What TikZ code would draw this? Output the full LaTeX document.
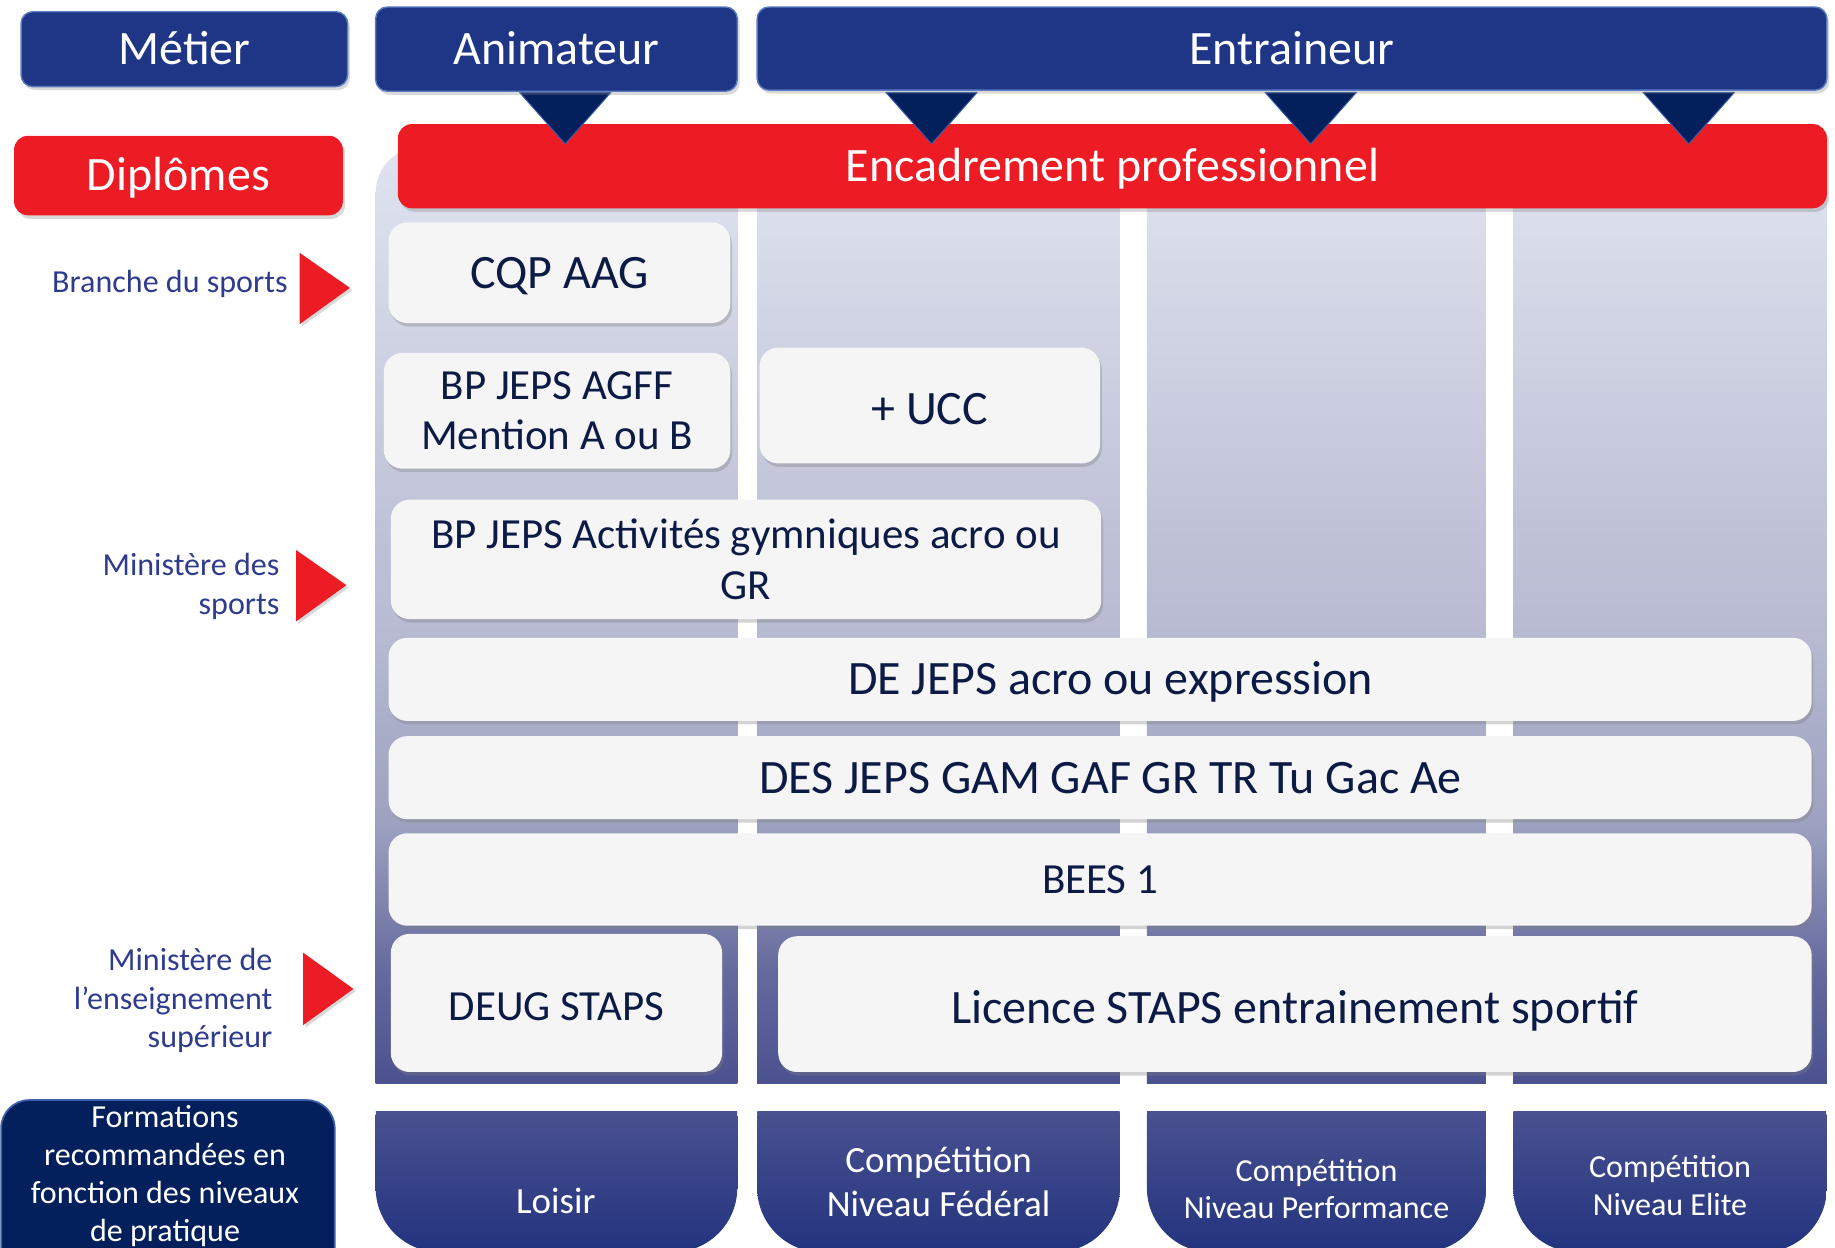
\documentclass[tikz,border=0pt]{standalone}
\usepackage{fontspec}
\setmainfont{Carlito}
\usetikzlibrary{shadows}
\definecolor{topblue}{HTML}{1F3585}
\definecolor{topborder}{HTML}{5A7BC2}
\definecolor{redc}{HTML}{ED1C24}
\definecolor{navy}{HTML}{03205C}
\definecolor{navyborder}{HTML}{3A5FA8}
\definecolor{boxgray}{HTML}{F5F5F5}
\definecolor{textdark}{HTML}{0C1A46}
\definecolor{lblblue}{HTML}{2F3C8E}
\definecolor{colA}{HTML}{4A518F}
\definecolor{colB}{HTML}{656A9E}
\definecolor{colC}{HTML}{9DA1C0}
\definecolor{colD}{HTML}{B7BAD1}
\definecolor{colE}{HTML}{E0E3EF}
\definecolor{botTop}{HTML}{4A5190}
\definecolor{botBot}{HTML}{22337E}
\pgfdeclareverticalshading{colshade}{100bp}{color(0bp)=(colA); color(25bp)=(colA); color(31bp)=(colB); color(38.75bp)=(colC); color(49bp)=(colD); color(75bp)=(colE); color(100bp)=(colE)}
\newcommand\fsz[2]{\fontsize{#1}{#2}\selectfont}
\begin{document}
\begin{tikzpicture}[x=1pt,y=-1pt,
  capc/.style={text height=#1, text depth=0pt},
  big/.style={font=\fsz{41}{49}, capc=26.4pt},
  mid/.style={font=\fsz{36.7}{44}, capc=23.6pt},
  topbox/.style={rounded corners=10pt, fill=topblue, draw=topborder, line width=1.2pt, text=white, inner sep=0pt, big, drop shadow={shadow xshift=2pt, shadow yshift=-3pt, opacity=0.3}},
  redbox/.style={rounded corners=12pt, fill=redc, text=white, inner sep=0pt, big, drop shadow={shadow xshift=2pt, shadow yshift=-3pt, opacity=0.3}},
  lbox/.style={rounded corners=16pt, fill=boxgray, text=textdark, inner sep=0pt, align=center, drop shadow={shadow xshift=1.5pt, shadow yshift=-3pt, opacity=0.35}},
  lbl/.style={text=lblblue, inner sep=0pt, anchor=east, align=right, font=\fsz{27.4}{33}},
  wlbl/.style={text=white, inner sep=0pt, align=center},
  navytri/.style={fill=navy, draw=navyborder, line width=0.8pt, line join=round},
  redtri/.style={fill=redc, drop shadow={shadow xshift=2pt, shadow yshift=-2pt, opacity=0.3}},
]
\useasboundingbox (0,0) rectangle (1568,1066);
% background columns
\foreach \a/\b in {321/630,647/957,980/1270,1293/1561}{
  \begin{scope}
    \clip[rounded corners=40pt] (\a,125) rectangle (\b,1000);
    \clip (\a,100) rectangle (\b,926);
    \path[shading=colshade] (\a,125) rectangle (\b,926);
  \end{scope}
}
% level boxes at bottom
\foreach \a/\b in {321/630,647/957,980/1270,1293/1561}{
  \begin{scope}
    \clip[rounded corners=55pt] (\a,900) rectangle (\b,1070);
    \clip (\a,950) rectangle (\b,1100);
    \path[top color=botTop, bottom color=botBot] (\a,950) rectangle (\b,1070);
  \end{scope}
}
\draw[fill=navy, draw=navyborder, line width=1.5pt, rounded corners=24pt] (1,940) rectangle (286,1110);
\node[wlbl, font=\fsz{27.4}{32.5}] (formations) at (141,1005) {Formations\\recommandées en\\fonction des niveaux\\de pratique};
\node[wlbl, font=\fsz{31.6}{38}, capc=20.4pt] (loisir) at (475,1027) {Loisir};
\node[wlbl, font=\fsz{31.6}{38}] (federal) at (802,1010) {Compétition\\Niveau Fédéral};
\node[wlbl, font=\fsz{27.4}{32}] (perf) at (1125,1016) {Compétition\\Niveau Performance};
\node[wlbl, font=\fsz{27.4}{33}] (elite) at (1427,1013) {Compétition\\Niveau Elite};
% red headers
\node[redbox, minimum width=1221pt, minimum height=72pt] (enc) at (950.5,142) {Encadrement professionnel};
\node[redbox, minimum width=281pt, minimum height=68pt] (dipl) at (152.5,150) {Diplômes};
% triangles
\foreach \c in {483,796,1120,1443}{
  \path[navytri] (\c-39,79) -- (\c+39,79) -- (\c,123) -- cycle;
}
% top boxes
\node[topbox, minimum width=279pt, minimum height=64pt] (metier) at (157.5,42) {Métier};
\node[topbox, minimum width=309pt, minimum height=72pt] (anim) at (475.5,42) {Animateur};
\node[topbox, minimum width=914pt, minimum height=71pt] (entr) at (1104,41.5) {Entraineur};
% diploma boxes
\node[lbox, minimum width=292pt, minimum height=86pt, big] (cqp) at (478,233) {CQP AAG};
\node[lbox, minimum width=296pt, minimum height=99pt, font=\fsz{36.7}{43}] (agff) at (476,351) {BP JEPS AGFF\\Mention A ou B};
\node[lbox, minimum width=291pt, minimum height=99pt, big, capc=32.4pt] (ucc) at (794.5,346.5) {+ UCC};
\node[lbox, minimum width=607pt, minimum height=102pt, font=\fsz{36.7}{44}] (bpact) at (637.5,478) {BP JEPS Activités gymniques acro ou\\GR};
\node[lbox, minimum width=1216pt, minimum height=71pt, big] (dejeps) at (940,580.5) {\hspace*{18pt}DE JEPS acro ou expression};
\node[lbox, minimum width=1216pt, minimum height=71pt, big] (desjeps) at (940,664.5) {\hspace*{18pt}DES JEPS GAM GAF GR TR Tu Gac Ae};
\node[lbox, minimum width=1216pt, minimum height=79pt, mid] (bees) at (940,751.5) {BEES 1};
\node[lbox, minimum width=283pt, minimum height=118pt, mid, capc=29.6pt] (deug) at (475.5,857) {DEUG STAPS};
\node[lbox, minimum width=883pt, minimum height=116pt, big, capc=32.4pt] (lic) at (1106.5,858) {Licence STAPS entrainement sportif};
% left labels and red arrows
\node[lbl, capc=17.6pt] (branche) at (246,241) {Branche du sports};
\node[lbl] (minsp) at (239,501) {Ministère des\\sports};
\node[lbl] (minens) at (233,855) {Ministère de\\l’enseignement\\supérieur};
\path[redtri] (256,216) -- (256,277) -- (299,246) -- cycle;
\path[redtri] (253,470) -- (253,531) -- (296,500) -- cycle;
\path[redtri] (259,814) -- (259,876) -- (302,845) -- cycle;
\end{tikzpicture}
\end{document}
